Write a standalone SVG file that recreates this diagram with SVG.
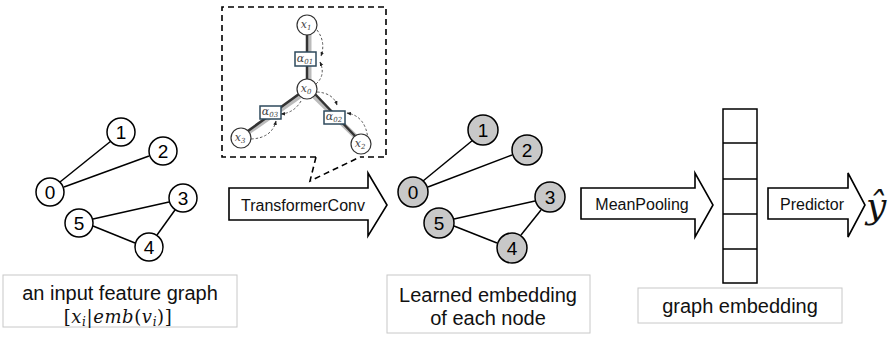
<svg xmlns="http://www.w3.org/2000/svg" width="889" height="339" viewBox="0 0 889 339">
<defs>
<style>
.edge{stroke:#000;stroke-width:1.5;fill:none}
.node{fill:#fff;stroke:#000;stroke-width:1.5}
.gnode{fill:#c8c8c8;stroke:#000;stroke-width:1.5}
.num{font-family:"Liberation Sans",Arial,sans-serif;font-size:19px;text-anchor:middle;fill:#000}
.lbl{font-family:"Liberation Sans",Arial,sans-serif;font-size:20px;text-anchor:middle;fill:#111}
.arrtxt{font-family:"Liberation Sans",Arial,sans-serif;font-size:16px;text-anchor:middle;fill:#111}
.box{fill:#fff;stroke:#c8c8c8;stroke-width:1}
.arrow{fill:#fff;stroke:#000;stroke-width:1.6;stroke-linejoin:miter}
.math{font-family:"DejaVu Serif","Liberation Serif",serif;font-style:italic;fill:#111}
.inode{fill:#fff;stroke:#333;stroke-width:1.2}
.alpha{fill:#fff;stroke:#2e4a5c;stroke-width:1.5}
.iedge{stroke:#333;stroke-width:2.5;fill:none}
.ishadow{stroke:#bbb;stroke-width:5;fill:none}
.att{stroke:#444;stroke-width:0.9;stroke-dasharray:2.5,2;fill:none}
.itxt{font-family:"DejaVu Serif","Liberation Serif",serif;font-style:italic;font-size:11px;text-anchor:middle;fill:#444}
</style>
<marker id="ah" viewBox="0 0 10 10" refX="9" refY="5" markerWidth="5" markerHeight="5" orient="auto">
<path d="M0,1 L10,5 L0,9 z" fill="#222"/>
</marker>
</defs>

<!-- callout -->
<g id="callout">
<path d="M316,157 L222,157 L222,7 L386,7 L386,157 L360,157 M316,157 L310,181 L360,157" fill="none" stroke="#000" stroke-width="1.6" stroke-dasharray="6,4"/>
</g>

<!-- inner attention graph -->
<g id="attention-graph">
<g id="inner-edges">
<line class="ishadow" x1="309" y1="35" x2="309" y2="80"/>
<line class="ishadow" x1="300" y1="96" x2="247" y2="133"/>
<line class="ishadow" x1="314" y1="96" x2="356" y2="137"/>
<line class="iedge" x1="307" y1="34" x2="307" y2="79"/>
<line class="iedge" x1="299" y1="94" x2="248" y2="131"/>
<line class="iedge" x1="315" y1="94" x2="355" y2="136"/>
<path class="att" d="M317,30 Q326,42 321,56" marker-end="url(#ah)"/>
<path class="att" d="M316,84 Q326,75 320,62" marker-end="url(#ah)"/>
<path class="att" d="M317,92 Q333,93 337,105" marker-end="url(#ah)"/>
<path class="att" d="M368,140 Q366,116 347,113" marker-end="url(#ah)"/>
<path class="att" d="M301,101 Q294,113 281,114" marker-end="url(#ah)"/>
<path class="att" d="M251,139 Q272,138 276,121" marker-end="url(#ah)"/>
</g>
<g id="x1"><circle class="inode" cx="307" cy="25" r="10"/><text class="itxt" x="306" y="28">x<tspan font-size="7" dy="2">1</tspan></text></g>
<g id="x0"><circle class="inode" cx="307" cy="89" r="10"/><text class="itxt" x="306" y="92">x<tspan font-size="7" dy="2">0</tspan></text></g>
<g id="x3"><circle class="inode" cx="241" cy="138" r="10"/><text class="itxt" x="240" y="141">x<tspan font-size="7" dy="2">3</tspan></text></g>
<g id="x2"><circle class="inode" cx="361" cy="144" r="10"/><text class="itxt" x="360" y="147">x<tspan font-size="7" dy="2">2</tspan></text></g>
<g id="a01"><rect class="alpha" x="295" y="52" width="21" height="14"/><text class="itxt" x="305" y="62" font-size="10">α<tspan font-size="7" dy="2">01</tspan></text></g>
<g id="a03"><rect class="alpha" x="260" y="106" width="21" height="13"/><text class="itxt" x="270" y="115" font-size="10">α<tspan font-size="7" dy="2">03</tspan></text></g>
<g id="a02"><rect class="alpha" x="324" y="111" width="21" height="13"/><text class="itxt" x="334" y="120" font-size="10">α<tspan font-size="7" dy="2">02</tspan></text></g>
</g>

<!-- connectors -->
<g id="connectors">
<line class="edge" x1="60" y1="182" x2="111" y2="141"/>
<line class="edge" x1="64" y1="187" x2="149" y2="156"/>
<line class="edge" x1="93" y1="219" x2="169" y2="202"/>
<line class="edge" x1="93" y1="226" x2="135" y2="243"/>
<line class="edge" x1="175" y1="210" x2="157" y2="235"/>
<line class="edge" x1="423" y1="181" x2="473" y2="140"/>
<line class="edge" x1="428" y1="187" x2="512" y2="155"/>
<line class="edge" x1="454" y1="219" x2="535" y2="201"/>
<line class="edge" x1="454" y1="226" x2="497" y2="243"/>
<line class="edge" x1="541" y1="210" x2="521" y2="235"/>
</g>

<!-- input graph -->
<g id="input-graph">
<g id="n1"><circle class="node" cx="121" cy="132" r="14"/><text class="num" x="121" y="139">1</text></g>
<g id="n2"><circle class="node" cx="163" cy="151" r="14"/><text class="num" x="163" y="158">2</text></g>
<g id="n0"><circle class="node" cx="50" cy="192" r="14"/><text class="num" x="50" y="199">0</text></g>
<g id="n3"><circle class="node" cx="183" cy="198" r="14"/><text class="num" x="183" y="205">3</text></g>
<g id="n5"><circle class="node" cx="79" cy="223" r="14"/><text class="num" x="79" y="230">5</text></g>
<g id="n4"><circle class="node" cx="149" cy="247" r="14"/><text class="num" x="149" y="254">4</text></g>
</g>

<g id="input-label">
<rect class="box" x="3" y="275" width="234" height="52"/>
<text class="lbl" x="120" y="300" font-size="20.5">an input feature graph</text>
<text class="math" x="118" y="323" font-size="18" text-anchor="middle" letter-spacing="0.6"><tspan font-style="normal">[</tspan>x<tspan font-size="12" dy="3">i</tspan><tspan dy="-3" font-style="normal">|</tspan>emb<tspan font-style="normal">(</tspan>v<tspan font-size="12" dy="3">i</tspan><tspan dy="-3" font-style="normal">)]</tspan></text>
</g>

<!-- TransformerConv arrow -->
<g id="transformerconv">
<path class="arrow" d="M229,188 L368,188 L368,173 L387,205 L368,236 L368,220 L229,220 Z"/>
<text class="arrtxt" x="303" y="211">TransformerConv</text>
</g>

<!-- learned graph -->
<g id="learned-graph">
<g id="m1"><circle class="gnode" cx="483" cy="130" r="15"/><text class="num" x="483" y="137">1</text></g>
<g id="m2"><circle class="gnode" cx="527" cy="150" r="15"/><text class="num" x="527" y="157">2</text></g>
<g id="m0"><circle class="gnode" cx="413" cy="192" r="15"/><text class="num" x="413" y="199">0</text></g>
<g id="m3"><circle class="gnode" cx="550" cy="197" r="15"/><text class="num" x="550" y="204">3</text></g>
<g id="m5"><circle class="gnode" cx="439" cy="223" r="15"/><text class="num" x="439" y="230">5</text></g>
<g id="m4"><circle class="gnode" cx="512" cy="248" r="15"/><text class="num" x="512" y="255">4</text></g>
</g>

<g id="learned-label">
<rect class="box" x="387" y="275" width="203" height="58"/>
<text class="lbl" x="488" y="302">Learned embedding</text>
<text class="lbl" x="488" y="325">of each node</text>
</g>

<!-- MeanPooling arrow -->
<g id="meanpooling">
<path class="arrow" d="M581,188 L695,188 L695,173 L713,205 L695,237 L695,219 L581,219 Z"/>
<text class="arrtxt" x="642" y="210">MeanPooling</text>
</g>

<!-- graph embedding vector -->
<g id="vector">
<rect x="723" y="109" width="34" height="174" fill="#fff" stroke="#000" stroke-width="1.5"/>
<line class="edge" x1="723" y1="143" x2="757" y2="143"/>
<line class="edge" x1="723" y1="179" x2="757" y2="179"/>
<line class="edge" x1="723" y1="214" x2="757" y2="214"/>
<line class="edge" x1="723" y1="249" x2="757" y2="249"/>
</g>

<g id="vector-label">
<rect class="box" x="638" y="288" width="204" height="35"/>
<text class="lbl" x="740" y="313">graph embedding</text>
</g>

<!-- Predictor arrow -->
<g id="predictor">
<path class="arrow" d="M768,188 L848,188 L848,173 L865,205 L848,237 L848,219 L768,219 Z"/>
<text class="arrtxt" x="812" y="210">Predictor</text>
</g>

<g id="output">
<text class="math" x="866" y="218" font-size="36" font-family="Liberation Serif, serif">ŷ</text>
</g>
</svg>
